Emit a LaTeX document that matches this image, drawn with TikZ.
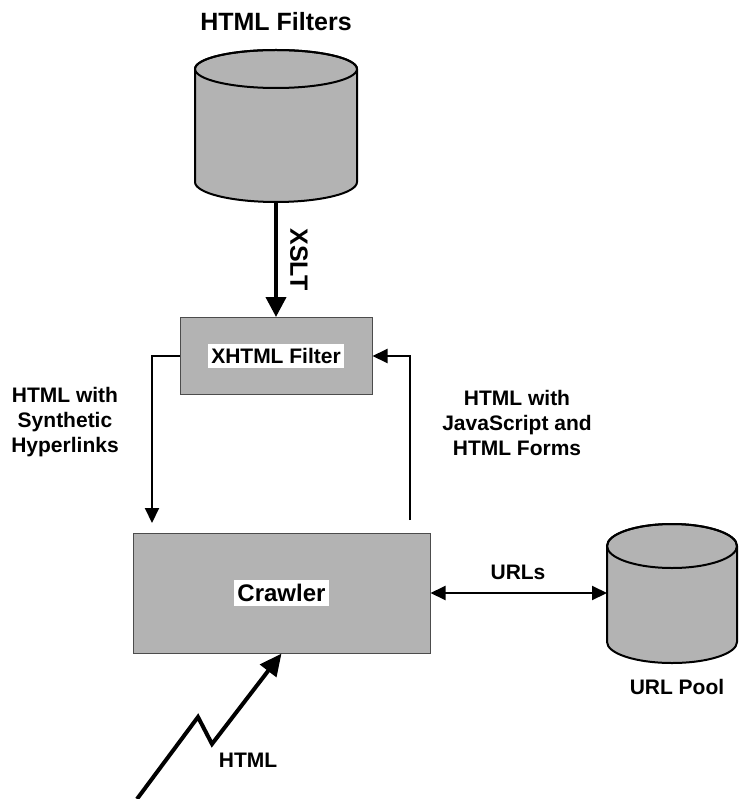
\documentclass[tikz,border=0pt]{standalone}
\usepackage{fontspec}
\setmainfont{Liberation Sans}
\usetikzlibrary{arrows.meta,positioning}
\definecolor{boxgray}{HTML}{B3B3B3}

\tikzset{
  store/.style={draw, line width=2pt, fill=boxgray},
  procbox/.style={draw=black!70, line width=1pt, fill=boxgray},
  tag/.style={fill=white, inner xsep=3pt, inner ysep=4pt, font=\bfseries\fontsize{21}{25}\selectfont},
  lbl/.style={align=center, font=\bfseries\fontsize{21}{25}\selectfont},
  flow/.style={line width=2pt, -{Triangle[length=15pt,width=14pt]}},
}

\begin{document}
\begin{tikzpicture}[x=1pt,y=-1pt]
\useasboundingbox (0,0) rectangle (739,799);
% data stores
\path[store] (195,69) -- (195,182) arc[start angle=180, end angle=0, x radius=81, y radius=20]
  -- (357,69) arc[start angle=0, end angle=-180, x radius=81, y radius=19] -- cycle;
\draw[line width=2pt] (276,69) ellipse[x radius=81, y radius=19];
\coordinate (filters) at (276,202);
\node[font=\bfseries\fontsize{25}{30}\selectfont] (filterstitle) at (276,22) {HTML Filters};
\path[store] (607,546) -- (607,642) arc[start angle=180, end angle=0, x radius=65, y radius=21]
  -- (737,546) arc[start angle=0, end angle=-180, x radius=65, y radius=22] -- cycle;
\draw[line width=2pt] (672,546) ellipse[x radius=65, y radius=22];
\coordinate (pool) at (607,593);
\node[lbl] (pooltitle) at (677,687) {URL Pool};
% processing boxes
\node[procbox, minimum width=192pt, minimum height=77pt] (filter) at (276,356) {};
\node[tag] (filtertxt) at (filter) {XHTML Filter};
\node[procbox, minimum width=297pt, minimum height=120pt] (crawler) at (281.5,593) {};
\node[tag, font=\bfseries\fontsize{24}{28}\selectfont] (crawlertxt) at (crawler) {Crawler};
% connectors
\draw[line width=4pt, -{Triangle[length=20pt,width=20pt]}] (filters) -- (filter.north)
  node[midway, xshift=23pt, rotate=-90, font=\bfseries\fontsize{25}{30}\selectfont] (xslt) {XSLT};
\coordinate (synin) at (152,523);
\coordinate (jsout) at (410,520);
\draw[flow] (filter.west) -| (synin);
\draw[flow] (jsout) |- (filter.east);
\node[lbl] (synlbl) at (65,422) {HTML with\\Synthetic\\Hyperlinks};
\node[lbl] (jslbl) at (517,423) {HTML with\\JavaScript and\\HTML Forms};
\draw[line width=2pt, {Triangle[length=15pt,width=14pt]}-{Triangle[length=15pt,width=14pt]}] (crawler.east) -- (pool);
\node[lbl] (urllbl) at (518,572) {URLs};
\coordinate (web) at (137,799);
\draw[line width=4pt, -{Triangle[length=22pt,width=20pt]}] (web) -- (198,717) -- (212,744) -- (crawler.south);
\node[lbl] (htmllbl) at (248,760) {HTML};
\end{tikzpicture}
\end{document}
